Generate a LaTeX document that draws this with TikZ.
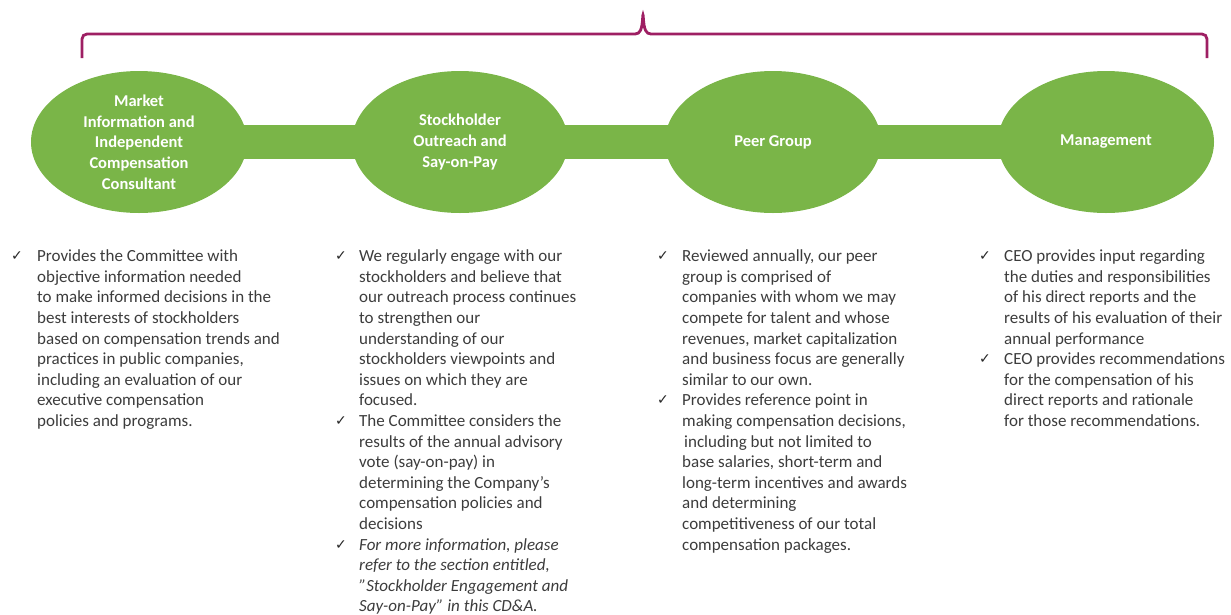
\documentclass[tikz,border=0pt]{standalone}
\usepackage{fontspec}
\setmainfont{Carlito}
\newfontfamily\symfont{DejaVu Sans}
\usetikzlibrary{shapes.geometric}
\definecolor{leafgreen}{RGB}{122,181,72}
\definecolor{plum}{RGB}{158,31,99}
\definecolor{bodygray}{RGB}{60,60,60}
\tikzset{
  hub/.style={ellipse, fill=leafgreen, minimum width=216pt, minimum height=142pt,
    inner sep=0pt, text=white, align=center,
    font=\bfseries\fontsize{16.5}{20.7}\selectfont},
  notes/.style={anchor=north west, inner sep=0pt, text=bodygray, align=left,
    font=\fontsize{17}{20.6}\selectfont},
  brace/.style={draw=plum, line width=2.8pt, rounded corners=5pt},
}
\newcommand{\tick}[1]{\makebox[#1][l]{\hspace{1pt}\raisebox{1pt}{\color{black!85}\symfont\fontsize{14}{14}\selectfont ✓}}}
\newcommand{\dq}{\symbol{34}}
\begin{document}
\begin{tikzpicture}[x=1pt,y=-1pt]
\useasboundingbox (0,0) rectangle (1231,614);

% grouping brace over the four inputs
\coordinate (bl) at (82,58);
\coordinate (br) at (1207,58);
\coordinate (btip) at (643,12);
\draw[brace] (bl) -- (82,34) -- (630,34)
  .. controls (640,34) and (642,30) .. (btip)
  .. controls (644,30) and (646,34) .. (656,34) -- (1207,34) -- (br);

% connecting band first, then the four inputs on top of it
\coordinate (bandL) at (139,125);
\coordinate (bandR) at (1106,159);
\fill[leafgreen] (bandL) rectangle (bandR);
\node[hub] (mkt) at (139,142) {Market\\Information and\\Independent\\Compensation\\Consultant};
\node[hub] (out) at (460,142) {Stockholder\\Outreach and\\Say-on-Pay};
\node[hub] (peer) at (773,142) {Peer Group};
\node[hub] (mgmt) at (1106,142) {Management};

% notes under each input
\node[notes] (n1) at (10,247) {\begin{tabular}{@{}l@{}l@{}}
\tick{27pt} & Provides the Committee with\\
 & objective information needed\\
 & to make informed decisions in the\\
 & best interests of stockholders\\
 & based on compensation trends and\\
 & practices in public companies,\\
 & including an evaluation of our\\
 & executive compensation\\
 & policies and programs.
\end{tabular}};

\node[notes] (n2) at (334,247) {\begin{tabular}{@{}l@{}l@{}}
\tick{25pt} & We regularly engage with our\\
 & stockholders and believe that\\
 & our outreach process continues\\
 & to strengthen our\\
 & understanding of our\\
 & stockholders viewpoints and\\
 & issues on which they are\\
 & focused.\\
\tick{25pt} & The Committee considers the\\
 & results of the annual advisory\\
 & vote (say-on-pay) in\\
 & determining the Company’s\\
 & compensation policies and\\
 & decisions\\
\tick{25pt} & \itshape For more information, please\\
 & \itshape refer to the section entitled,\\
 & \itshape \dq Stockholder Engagement and\\
 & \itshape Say-on-Pay\dq{} in this CD\&A.
\end{tabular}};

\node[notes] (n3) at (656,247) {\begin{tabular}{@{}l@{}l@{}}
\tick{26pt} & Reviewed annually, our peer\\
 & group is comprised of\\
 & companies with whom we may\\
 & compete for talent and whose\\
 & revenues, market capitalization\\
 & and business focus are generally\\
 & similar to our own.\\
\tick{26pt} & Provides reference point in\\
 & making compensation decisions,\\
 & \hspace{2pt}including but not limited to\\
 & base salaries, short-term and\\
 & long-term incentives and awards\\
 & and determining\\
 & competitiveness of our total\\
 & compensation packages.
\end{tabular}};

\node[notes] (n4) at (978,247) {\begin{tabular}{@{}l@{}l@{}}
\tick{26pt} & CEO provides input regarding\\
 & the duties and responsibilities\\
 & of his direct reports and the\\
 & results of his evaluation of their\\
 & annual performance\\
\tick{26pt} & CEO provides recommendations\\
 & for the compensation of his\\
 & direct reports and rationale\\
 & for those recommendations.
\end{tabular}};
\end{tikzpicture}
\end{document}
